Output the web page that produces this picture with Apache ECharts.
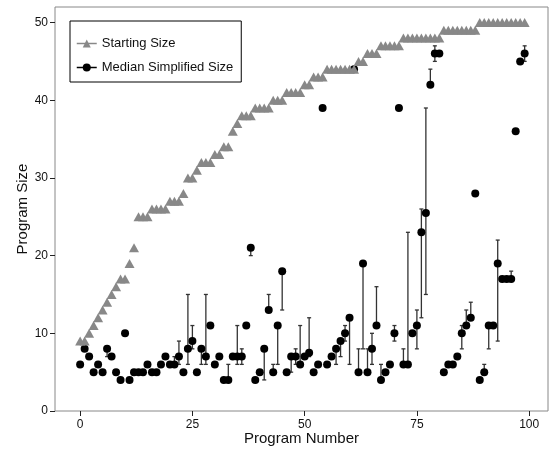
<!DOCTYPE html>
<html>
<head>
<meta charset="utf-8">
<script src="https://cdn.jsdelivr.net/npm/echarts@6/dist/echarts.min.js"></script>
<style>
  html, body { margin: 0; padding: 0; background: #fff; }
  #main { width: 550px; height: 451px; }
</style>
</head>
<body>
<div id="main"></div>
<script>
// starting size of each program (sorted), program number = index
var startSize = [9, 9, 10, 11, 12, 13, 14, 15, 16, 17, 17, 19, 21,
  25, 25, 25, 26, 26, 26, 26, 27, 27, 27, 28, 30, 30, 31, 32, 32, 32,
  33, 33, 34, 34, 36, 37, 38, 38, 38, 39, 39, 39, 39, 40, 40, 40,
  41, 41, 41, 41, 42, 42, 43, 43, 43, 44, 44, 44, 44, 44, 44, 44,
  45, 45, 46, 46, 46, 47, 47, 47, 47, 47,
  48, 48, 48, 48, 48, 48, 48, 48, 48,
  49, 49, 49, 49, 49, 49, 49, 49,
  50, 50, 50, 50, 50, 50, 50, 50, 50, 50, 50];

var medianSize = [6, 8, 7, 5, 6, 5, 8, 7, 5, 4,
  10, 4, 5, 5, 5, 6, 5, 5, 6, 7,
  6, 6, 7, 5, 8, 9, 5, 8, 7, 11,
  6, 7, 4, 4, 7, 7, 7, 11, 21, 4,
  5, 8, 13, 5, 11, 18, 5, 7, 7, 6,
  7, 7.5, 5, 6, 39, 6, 7, 8, 9, 10,
  12, 44, 5, 19, 5, 8, 11, 4, 5, 6,
  10, 39, 6, 6, 10, 11, 23, 25.5, 42, 46,
  46, 5, 6, 6, 7, 10, 11, 12, 28, 4,
  5, 11, 11, 19, 17, 17, 17, 36, 45, 46];

// error bars: program number, low, high
var barProgram = [6, 21, 22, 24, 25, 27, 28, 33, 35, 36, 38, 41, 42, 43, 44, 45, 47, 48, 49, 51,
  57, 58, 59, 60, 62, 63, 64, 65, 66, 67, 70, 72, 73, 75, 76, 77, 78, 79,
  85, 86, 87, 90, 91, 93, 96, 99];
var barLow = [7, 6, 6, 6, 8, 6, 6, 4, 6, 6, 20, 4, 13, 5, 6, 13, 5, 6, 6, 7,
  6, 7, 9, 6, 5, 8, 5, 6, 11, 4, 9, 6, 6, 8, 12, 15, 42, 45,
  8, 11, 12, 5, 8, 9, 17, 45];
var barHigh = [8, 7, 9, 15, 11, 8, 15, 6, 11, 8, 21, 8, 15, 6, 11, 18, 7, 8, 11, 12,
  8, 9, 11, 12, 8, 19, 8, 10, 16, 6, 11, 8, 23, 13, 26, 39, 44, 47,
  11, 13, 14, 6, 11, 22, 18, 47];

var xTicks = [0, 25, 50, 75, 100];
var yTicks = [0, 10, 20, 30, 40, 50];

var startData = startSize.map(function (v, i) { return [i, v]; });
var medianData = medianSize.map(function (v, i) { return [i, v]; });
var barData = barProgram.map(function (p, i) { return [p, barLow[i], barHigh[i]]; });

var font = "'Liberation Sans', Arial, sans-serif";
var myChart = echarts.init(document.getElementById("main"));
myChart.setOption({
  animation: false,
  grid: {
    left: 55, right: 2, top: 7, bottom: 39,
    show: true, borderColor: "#888", borderWidth: 1
  },
  legend: {
    orient: "vertical",
    left: 70, top: 21,
    padding: [16, 8, 8, 6],
    itemGap: 11,
    itemWidth: 20, itemHeight: 10,
    borderColor: "#000", borderWidth: 1,
    textStyle: { fontFamily: font, fontSize: 13, color: "#111" },
    data: [
      { name: "Starting Size", lineStyle: { opacity: 1, width: 1.5, color: "#888" } },
      { name: "Median Simplified Size", lineStyle: { opacity: 1, width: 1.5, color: "#000" } }
    ]
  },
  xAxis: {
    type: "value",
    min: -5.6, max: 104.2,
    name: "Program Number",
    nameLocation: "middle",
    nameGap: 20,
    nameMoveOverlap: false,
    nameTextStyle: { fontFamily: font, fontSize: 15, color: "#111" },
    axisLine: { show: false, onZero: false },
    splitLine: { show: false },
    axisTick: { show: true, length: 5, customValues: xTicks, lineStyle: { color: "#222" } },
    axisLabel: { customValues: xTicks, fontFamily: font, fontSize: 12, color: "#111", margin: 8 }
  },
  yAxis: {
    type: "value",
    min: 0, max: 52,
    name: "Program Size",
    nameLocation: "middle",
    nameGap: 25,
    nameMoveOverlap: false,
    nameTextStyle: { fontFamily: font, fontSize: 15, color: "#111" },
    axisLine: { show: false, onZero: false },
    splitLine: { show: false },
    axisTick: { show: true, length: 5, customValues: yTicks, lineStyle: { color: "#222" } },
    axisLabel: { customValues: yTicks, fontFamily: font, fontSize: 12, color: "#111", margin: 7 }
  },
  series: [
    {
      name: "Error",
      type: "custom",
      z: 2,
      silent: true,
      data: barData,
      renderItem: function (params, api) {
        var lo = api.coord([api.value(0), api.value(1)]);
        var hi = api.coord([api.value(0), api.value(2)]);
        var c = 2;
        var st = { stroke: "#333", lineWidth: 1.3 };
        return {
          type: "group",
          children: [
            { type: "line", shape: { x1: lo[0], y1: lo[1], x2: hi[0], y2: hi[1] }, style: st },
            { type: "line", shape: { x1: lo[0] - c, y1: lo[1], x2: lo[0] + c, y2: lo[1] }, style: st },
            { type: "line", shape: { x1: hi[0] - c, y1: hi[1], x2: hi[0] + c, y2: hi[1] }, style: st }
          ]
        };
      }
    },
    {
      name: "Median Simplified Size",
      type: "line",
      z: 3,
      data: medianData,
      symbol: "circle",
      symbolSize: 8,
      itemStyle: { color: "#000" },
      lineStyle: { opacity: 0, color: "#000" }
    },
    {
      name: "Starting Size",
      type: "line",
      z: 4,
      data: startData,
      symbol: "triangle",
      symbolSize: [10, 9],
      itemStyle: { color: "#888" },
      lineStyle: { opacity: 0, color: "#888" }
    }
  ]
});
</script>
</body>
</html>
